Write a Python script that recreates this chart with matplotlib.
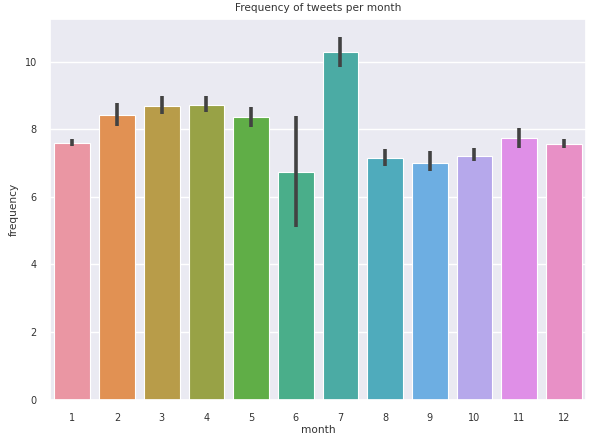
import numpy as np
import matplotlib
matplotlib.use("Agg")
import matplotlib.pyplot as plt
import seaborn as sns

months = ["1", "2", "3", "4", "5", "6", "7", "8", "9", "10", "11", "12"]
freq = [7.59, 8.41, 8.70, 8.73, 8.35, 6.73, 10.27, 7.14, 7.01, 7.22, 7.73, 7.56]
ci_low = [7.49, 8.08, 8.45, 8.51, 8.07, 5.10, 9.85, 6.91, 6.75, 7.05, 7.45, 7.45]
ci_high = [7.70, 8.77, 8.97, 8.97, 8.66, 8.40, 10.74, 7.42, 7.34, 7.45, 8.04, 7.72]

sns.set_theme(style="darkgrid")

# barplot style colours: husl palette (l=.7), desaturated
colors = [sns.desaturate(c, 0.75) for c in sns.husl_palette(len(months), l=.7)]

fig = plt.figure(figsize=(5.92, 4.37), dpi=100)
ax = fig.add_axes([0.0845, 0.0858, 0.9055, 0.8707])

x = np.arange(len(months))
ax.bar(x, freq, width=0.8, color=colors, edgecolor="white", linewidth=0.8)
ax.vlines(x, ci_low, ci_high, color="#424242", linewidth=2.6)

ax.set_xticks(x)
ax.set_xticklabels(months)
ax.set_xlim(-0.5, len(months) - 0.5)
ax.set_ylim(0, 11.26)
ax.set_yticks([0, 2, 4, 6, 8, 10])
ax.xaxis.grid(False)
ax.tick_params(labelsize=7, colors="#333333")
ax.set_title("Frequency of tweets per month", fontsize=7.6, color="#333333")
ax.set_xlabel("month", fontsize=7.6, labelpad=2, color="#333333")
ax.set_ylabel("frequency", fontsize=7.6, color="#333333")

fig.savefig("out.png", dpi=100)
